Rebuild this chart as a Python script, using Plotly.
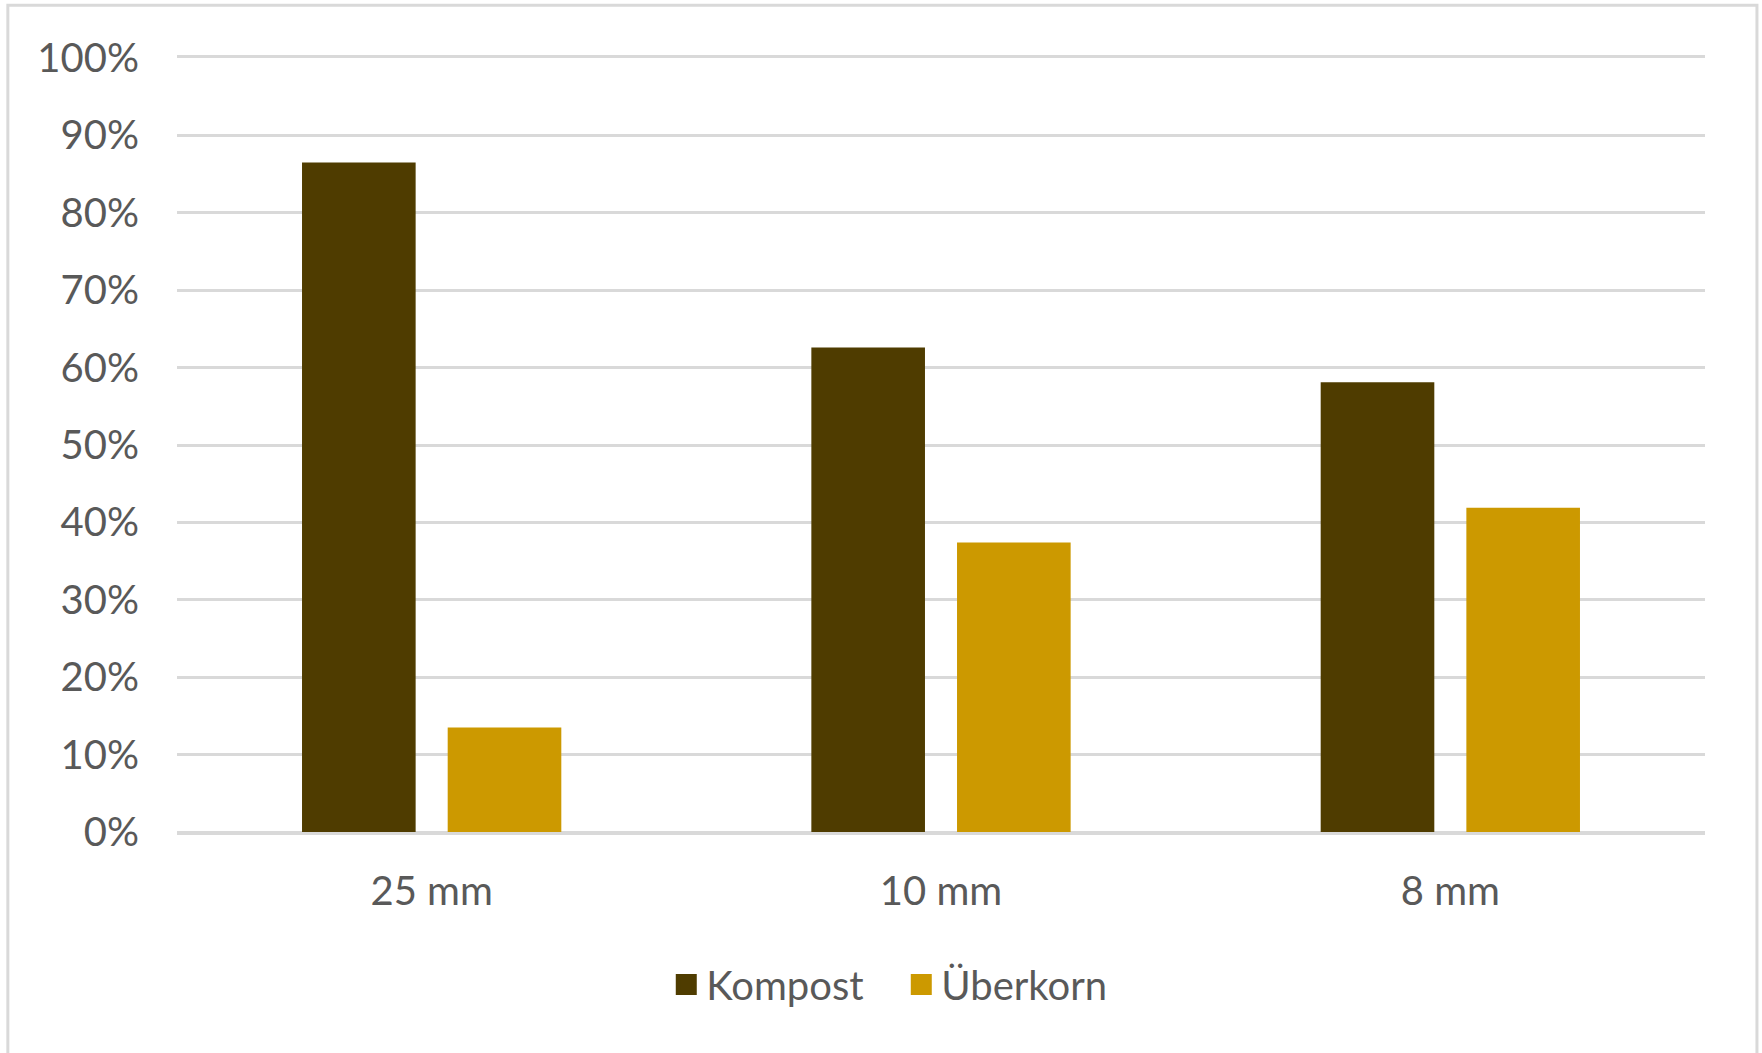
import plotly.graph_objects as go

categories = ["25 mm", "10 mm", "8 mm"]
kompost = [86.5, 62.6, 58.1]
ueberkorn = [13.5, 37.4, 41.9]
y_ticks = [0, 10, 20, 30, 40, 50, 60, 70, 80, 90, 100]
y_tick_labels = [f"{v}%" for v in y_ticks]

series = [
    ("Kompost", kompost, "#4f3c00"),
    ("Überkorn", ueberkorn, "#cc9900"),
]

FONT = "Lato, 'Open Sans', sans-serif"
TEXT = "#595959"
GRID = "#d9d9d9"

fig = go.Figure()
for name, vals, color in series:
    fig.add_trace(go.Bar(
        x=categories, y=vals, name=name,
        marker=dict(color=color, line=dict(width=0)),
        showlegend=False,
    ))
    # legend entry with a larger square swatch
    fig.add_trace(go.Scatter(
        x=[None], y=[None], name=name, mode="markers",
        marker=dict(symbol="square", size=16, color=color,
                    line=dict(color=color, width=5)),
        showlegend=True,
    ))

fig.update_layout(
    width=1762, height=1053,
    margin=dict(l=177, r=57, t=58, b=221),
    paper_bgcolor="white", plot_bgcolor="white",
    font=dict(family=FONT, size=40, color=TEXT),
    barmode="group", bargap=0.428, bargroupgap=0.22,
    legend=dict(
        orientation="h", x=0.474, xanchor="center", y=-0.197, yanchor="middle",
        font=dict(family=FONT, size=40, color=TEXT),
        itemsizing="trace", itemwidth=30, tracegroupgap=0,
        entrywidth=190, entrywidthmode="pixels",
    ),
    shapes=[dict(
        type="rect", xref="paper", yref="paper",
        x0=-0.1107, x1=1.034, y0=-0.3, y1=1.068,
        line=dict(color=GRID, width=3), fillcolor="rgba(0,0,0,0)", layer="below",
    )],
)
fig.update_xaxes(
    showgrid=False, zeroline=False,
    showline=True, mirror=True, linecolor=GRID, linewidth=3,
    ticks="outside", ticklen=22, tickcolor="rgba(0,0,0,0)",
    tickfont=dict(family=FONT, size=40, color=TEXT),
)
fig.update_yaxes(
    range=[0, 100], tickvals=y_ticks, ticktext=y_tick_labels,
    showgrid=True, gridcolor=GRID, gridwidth=3,
    zeroline=True, zerolinecolor=GRID, zerolinewidth=3, showline=False,
    ticks="outside", ticklen=29, tickcolor="rgba(0,0,0,0)",
    tickfont=dict(family=FONT, size=40, color=TEXT),
)

fig.write_html("out.html")
